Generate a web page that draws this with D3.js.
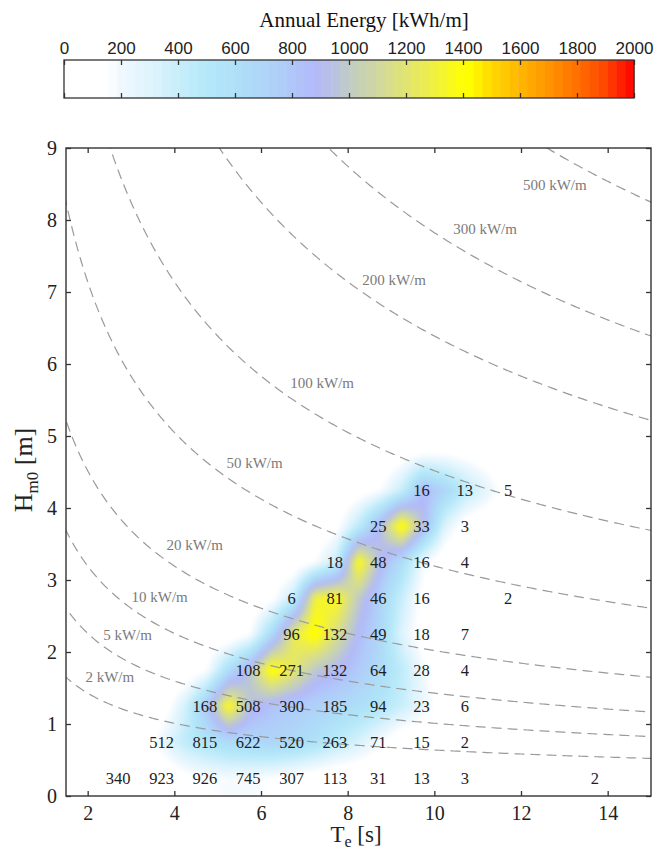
<!DOCTYPE html>
<html>
<head>
<meta charset="utf-8">
<script src="https://cdn.jsdelivr.net/npm/d3@7"></script>
<style>
  body { margin: 0; background: #fff; }
  svg { display: block; }
</style>
</head>
<body>
<svg id="chart" width="656" height="852"></svg>
<script>
// Occurrence table (numbers printed in the cells)
const teBins = [2.75, 3.75, 4.75, 5.75, 6.75, 7.75, 8.75, 9.75, 10.75, 11.75, 12.75, 13.75];
const hBins = [0.25, 0.75, 1.25, 1.75, 2.25, 2.75, 3.25, 3.75, 4.25];
const counts = [
    [340, 923, 926, 745, 307, 113, 31, 13, 3, null, null, 2],
    [null, 512, 815, 622, 520, 263, 71, 15, 2, null, null, null],
    [null, null, 168, 508, 300, 185, 94, 23, 6, null, null, null],
    [null, null, null, 108, 271, 132, 64, 28, 4, null, null, null],
    [null, null, null, null, 96, 132, 49, 18, 7, null, null, null],
    [null, null, null, null, 6, 81, 46, 16, null, 2, null, null],
    [null, null, null, null, null, 18, 48, 16, 4, null, null, null],
    [null, null, null, null, null, null, 25, 33, 3, null, null, null],
    [null, null, null, null, null, null, null, 16, 13, 5, null, null]
];

// Annual energy surface [kWh/m]
const teGrid = [2.25, 2.75, 3.25, 3.75, 4.25, 4.75, 5.25, 5.75, 6.25, 6.75, 7.25,
                7.75, 8.25, 8.75, 9.25, 9.75, 10.25, 10.75, 11.25, 11.75, 12.25];
const hGrid = [0.25, 0.75, 1.25, 1.75, 2.25, 2.75, 3.25, 3.75, 4.25, 4.75];
const energy = [
    [0, 0, 0, 0, 100, 150, 180, 180, 150, 100, 50, 0, 0, 0, 0, 0, 0, 0, 0, 0, 0],
    [0, 0, 50, 250, 450, 560, 640, 680, 700, 670, 580, 460, 330, 180, 0, 0, 0, 0, 0, 0, 0],
    [0, 0, 0, 50, 350, 800, 1390, 950, 830, 770, 730, 680, 610, 530, 400, 240, 60, 0, 0, 0, 0],
    [0, 0, 0, 0, 0, 150, 620, 980, 1440, 1230, 980, 900, 780, 640, 450, 200, 0, 0, 0, 0, 0],
    [0, 0, 0, 0, 0, 0, 0, 150, 650, 1250, 1440, 1150, 880, 680, 300, 50, 0, 0, 0, 0, 0],
    [0, 0, 0, 0, 0, 0, 0, 0, 100, 420, 1310, 1370, 1000, 720, 400, 80, 0, 0, 0, 0, 0],
    [0, 0, 0, 0, 0, 0, 0, 0, 0, 0, 150, 420, 1400, 920, 620, 200, 0, 0, 0, 0, 0],
    [0, 0, 0, 0, 0, 0, 0, 0, 0, 0, 0, 100, 450, 920, 1460, 920, 300, 50, 0, 0, 0],
    [0, 0, 0, 0, 0, 0, 0, 0, 0, 0, 0, 0, 50, 150, 400, 880, 700, 450, 250, 50, 0],
    [0, 0, 0, 0, 0, 0, 0, 0, 0, 0, 0, 0, 0, 0, 80, 150, 150, 100, 50, 0, 0]
];

// Iso-power lines [kW/m] and where their labels sit
const powerLevels = [2, 5, 10, 20, 50, 100, 200, 300, 500];
const labelTe = [2.51, 2.92, 3.66, 4.47, 5.85, 7.41, 9.07, 11.17, 12.78];
const labelH = [1.63, 2.21, 2.74, 3.47, 4.60, 5.71, 7.14, 7.85, 8.47];

// Colour map
const cmapValues = [0, 150, 200, 300, 400, 500, 600, 700, 800, 880, 950, 1000, 1100, 1200, 1300, 1380, 1420, 1500, 1600, 1700, 1800, 1900, 2000];
const cmapColors = ["#ffffff", "#ffffff", "#f0f8fe", "#dff4fd", "#c8eefb", "#b5e8f9", "#aee0f8", "#afd5f8", "#b0c8f9", "#b2b8fa",
                    "#b8c2e0", "#c0ccc4", "#d0d8a0", "#e0e470", "#f0f040", "#fcfc10", "#ffff00", "#ffd800", "#ffb600", "#ff9400",
                    "#ff7000", "#ff4400", "#ff0000"];
const cbTicks = [0, 200, 400, 600, 800, 1000, 1200, 1400, 1600, 1800, 2000];

const width = 656;
const height = 852;
const plot = { left: 66, right: 651, top: 148, bottom: 796 };
const bar = { left: 64, right: 634, top: 60, bottom: 98 };
const serif = "'Liberation Serif', 'DejaVu Serif', serif";
const sans = "'Liberation Sans', Arial, sans-serif";

const svg = d3.select("#chart");

const x = d3.scaleLinear().domain([1.5, 15]).range([plot.left, plot.right]);
const y = d3.scaleLinear().domain([0, 9]).range([plot.bottom, plot.top]);
const color = d3.scaleLinear().domain(cmapValues).range(cmapColors)
    .interpolate(d3.interpolateRgb).clamp(true);

// ---- colour bar ----
const cb = d3.scaleLinear().domain([0, 2000]).range([bar.left, bar.right]);
const nSteps = 64;
const step = 2000 / nSteps;
svg.append("g").selectAll("rect")
    .data(d3.range(nSteps))
    .enter().append("rect")
    .attr("x", i => cb(i * step))
    .attr("y", bar.top)
    .attr("width", i => cb((i + 1) * step) - cb(i * step) + 0.5)
    .attr("height", bar.bottom - bar.top)
    .attr("fill", i => color((i + 0.5) * step));

const cbTop = svg.append("g")
    .attr("transform", `translate(0,${bar.top})`)
    .call(d3.axisTop(cb).tickValues(cbTicks).tickFormat(d3.format("d")).tickSize(-5).tickPadding(6));
cbTop.select(".domain").remove();
cbTop.selectAll("line").attr("stroke", "#333").attr("stroke-width", 1.3);
cbTop.selectAll("text").style("font-family", sans).style("font-size", "17px").style("fill", "#222");

const cbBottom = svg.append("g")
    .attr("transform", `translate(0,${bar.bottom})`)
    .call(d3.axisBottom(cb).tickValues(cbTicks).tickSize(-5).tickFormat(""));
cbBottom.select(".domain").remove();
cbBottom.selectAll("line").attr("stroke", "#333").attr("stroke-width", 1.3);

svg.append("rect")
    .attr("x", bar.left).attr("y", bar.top)
    .attr("width", bar.right - bar.left).attr("height", bar.bottom - bar.top)
    .attr("fill", "none").attr("stroke", "#333").attr("stroke-width", 1.3);

svg.append("text")
    .attr("x", 364).attr("y", 27)
    .attr("text-anchor", "middle")
    .style("font-family", serif).style("font-size", "21px").style("fill", "#111")
    .text("Annual Energy [kWh/m]");

// ---- heat map (bilinear surface, softened) ----
function energyAt(te, h) {
    let fi = (te - teGrid[0]) / (teGrid[1] - teGrid[0]);
    let fj = (h - hGrid[0]) / (hGrid[1] - hGrid[0]);
    fi = Math.max(0, Math.min(teGrid.length - 1, fi));
    fj = Math.max(0, Math.min(hGrid.length - 1, fj));
    const i0 = Math.min(Math.floor(fi), teGrid.length - 2);
    const j0 = Math.min(Math.floor(fj), hGrid.length - 2);
    const u = fi - i0, v = fj - j0;
    const a = energy[j0][i0], b = energy[j0][i0 + 1];
    const c = energy[j0 + 1][i0], d = energy[j0 + 1][i0 + 1];
    return (a * (1 - u) + b * u) * (1 - v) + (c * (1 - u) + d * u) * v;
}

const pw = plot.right - plot.left;
const ph = plot.bottom - plot.top;
const raw = document.createElement("canvas");
raw.width = pw; raw.height = ph;
const rctx = raw.getContext("2d");
const img = rctx.createImageData(pw, ph);
for (let py = 0; py < ph; py++) {
    const h = y.invert(plot.top + py + 0.5);
    for (let px = 0; px < pw; px++) {
        const te = x.invert(plot.left + px + 0.5);
        const c = d3.rgb(color(energyAt(te, h)));
        const k = (py * pw + px) * 4;
        img.data[k] = c.r; img.data[k + 1] = c.g; img.data[k + 2] = c.b; img.data[k + 3] = 255;
    }
}
rctx.putImageData(img, 0, 0);

const soft = document.createElement("canvas");
soft.width = pw; soft.height = ph;
const sctx = soft.getContext("2d");
sctx.fillStyle = "#fff";
sctx.fillRect(0, 0, pw, ph);
sctx.filter = "blur(2.5px)";
sctx.drawImage(raw, 0, 0);

svg.append("image")
    .attr("x", plot.left).attr("y", plot.top)
    .attr("width", pw).attr("height", ph)
    .attr("href", soft.toDataURL());

// ---- iso-power lines ----
svg.append("clipPath").attr("id", "plotClip")
    .append("rect")
    .attr("x", plot.left).attr("y", plot.top)
    .attr("width", pw).attr("height", ph);

const teLine = d3.range(1.2, 15.3, 0.05);
const line = d3.line()
    .x(d => x(d[0]))
    .y(d => y(d[1]));

svg.append("g").attr("clip-path", "url(#plotClip)")
    .selectAll("path")
    .data(powerLevels)
    .enter().append("path")
    .attr("d", p => line(teLine.map(t => [t, Math.sqrt(p / (0.49 * t))])))
    .attr("fill", "none")
    .attr("stroke", "#9a9a9a")
    .attr("stroke-width", 1.2)
    .attr("stroke-dasharray", "10,6");

svg.append("g").selectAll("text")
    .data(powerLevels)
    .enter().append("text")
    .attr("x", (p, i) => x(labelTe[i]))
    .attr("y", (p, i) => y(labelH[i]))
    .attr("text-anchor", "middle")
    .attr("dominant-baseline", "middle")
    .style("font-family", serif).style("font-size", "15px").style("fill", "#7a7a7a")
    .text(p => `${p} kW/m`);

// ---- occurrence numbers ----
const cells = [];
counts.forEach((row, j) => row.forEach((n, i) => {
    if (n !== null) cells.push({ te: teBins[i], h: hBins[j], n: n });
}));
svg.append("g").selectAll("text")
    .data(cells)
    .enter().append("text")
    .attr("x", d => x(d.te) - 2)
    .attr("y", d => y(d.h))
    .attr("text-anchor", "middle")
    .attr("dominant-baseline", "central")
    .style("font-family", serif).style("font-size", "16.5px").style("fill", "#1e1e1e")
    .text(d => d.n);

// ---- axes ----
const axisStyle = g => {
    g.select(".domain").remove();
    g.selectAll("line").attr("stroke", "#333").attr("stroke-width", 1.3);
    g.selectAll("text").style("font-family", serif).style("font-size", "20px").style("fill", "#222");
};
svg.append("g")
    .attr("transform", `translate(0,${plot.bottom})`)
    .call(d3.axisBottom(x).tickValues([2, 4, 6, 8, 10, 12, 14]).tickSize(-5).tickPadding(10))
    .call(axisStyle);
svg.append("g")
    .attr("transform", `translate(0,${plot.top})`)
    .call(d3.axisTop(x).tickValues([2, 4, 6, 8, 10, 12, 14]).tickSize(-5).tickFormat(""))
    .call(axisStyle);
svg.append("g")
    .attr("transform", `translate(${plot.left},0)`)
    .call(d3.axisLeft(y).tickValues(d3.range(0, 10)).tickSize(-5).tickPadding(9))
    .call(axisStyle);
svg.append("g")
    .attr("transform", `translate(${plot.right},0)`)
    .call(d3.axisRight(y).tickValues(d3.range(0, 10)).tickSize(-5).tickFormat(""))
    .call(axisStyle);

svg.append("rect")
    .attr("x", plot.left).attr("y", plot.top)
    .attr("width", pw).attr("height", ph)
    .attr("fill", "none").attr("stroke", "#333").attr("stroke-width", 1.4);

// axis titles
const xt = svg.append("text")
    .attr("x", 356).attr("y", 842)
    .attr("text-anchor", "middle")
    .style("font-family", serif).style("font-size", "23px").style("fill", "#222");
xt.append("tspan").text("T");
xt.append("tspan").attr("dy", 5).style("font-size", "16px").text("e");
xt.append("tspan").attr("dy", -5).text(" [s]");

const yt = svg.append("text")
    .attr("transform", "translate(32,470) rotate(-90)")
    .attr("text-anchor", "middle")
    .style("font-family", serif).style("font-size", "26px").style("fill", "#222");
yt.append("tspan").text("H");
yt.append("tspan").attr("dy", 6).style("font-size", "17px").text("m0");
yt.append("tspan").attr("dy", -6).text(" [m]");
</script>
</body>
</html>
